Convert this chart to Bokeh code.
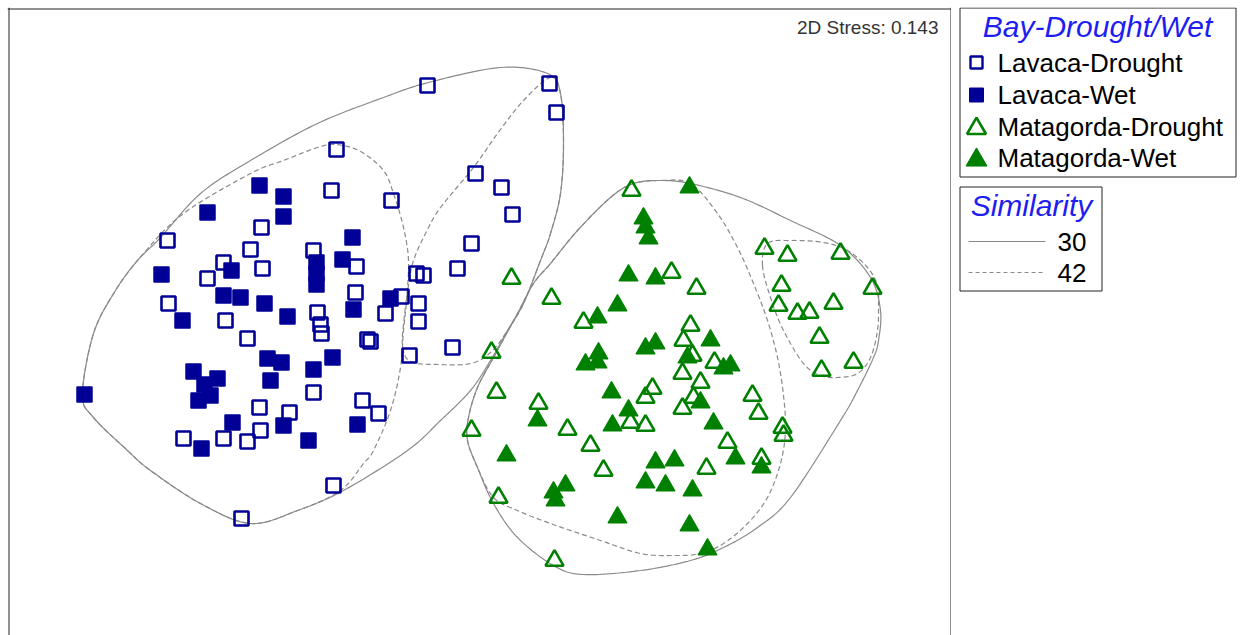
import numpy as np
from bokeh.plotting import figure
from bokeh.layouts import row
from bokeh.models import Range1d, Label, Span
from bokeh.embed import file_html
from bokeh.resources import INLINE

# ---- NMDS ordination scores (plot units; y grows downward) ----
lavaca_drought_x = [427, 549, 556, 336, 331, 391, 475, 501, 512, 471, 457, 167, 261, 250, 223, 262,
                    207, 313, 356, 168, 225, 247, 355, 317, 320, 321, 401, 385, 416, 423, 418, 418,
                    367, 370, 409, 452, 313, 362, 378, 259, 289, 260, 183, 223, 247, 333, 241]
lavaca_drought_y = [85, 83, 112, 149, 190, 200, 173, 187, 214, 243, 268, 240, 227, 249, 262, 268,
                    278, 250, 266, 303, 320, 338, 292, 312, 324, 333, 296, 313, 273, 275, 303, 321,
                    339, 341, 355, 347, 392, 400, 413, 407, 412, 430, 438, 438, 441, 485, 518]

lavaca_wet_x = [259, 283, 207, 283, 352, 342, 161, 231, 316, 316, 316, 223, 240, 182, 264, 287, 353,
                390, 84, 193, 217, 204, 210, 198, 267, 281, 270, 332, 313, 232, 201, 283, 308, 357]
lavaca_wet_y = [185, 196, 212, 216, 237, 259, 274, 270, 262, 273, 284, 295, 297, 320, 303, 316, 309,
                298, 394, 371, 378, 384, 395, 400, 358, 362, 380, 357, 369, 422, 448, 425, 440, 424]

matagorda_drought_x = [631, 511, 551, 583, 491, 671, 696, 764, 787, 840, 781, 872, 778, 797, 809, 833,
                       690, 683, 819, 853, 821, 692, 714, 682, 700, 496, 538, 645, 652, 630, 645, 471,
                       567, 590, 603, 498, 554, 693, 682, 752, 758, 782, 783, 727, 761, 706]
matagorda_drought_y = [190, 278, 298, 322, 352, 272, 288, 248, 255, 253, 285, 288, 305, 313, 312, 303,
                       325, 340, 337, 362, 370, 355, 362, 373, 382, 392, 403, 397, 388, 422, 425, 430,
                       429, 445, 470, 497, 560, 397, 408, 395, 413, 427, 435, 442, 458, 468]

matagorda_wet_x = [689, 643, 645, 648, 628, 655, 617, 597, 645, 655, 598, 585, 597, 710, 687, 723, 730,
                   611, 628, 612, 537, 506, 565, 553, 555, 617, 700, 713, 735, 761, 655, 674, 645, 665,
                   692, 689, 707]
matagorda_wet_y = [187, 218, 227, 238, 275, 278, 305, 317, 348, 343, 353, 364, 362, 340, 357, 368, 365,
                   392, 410, 425, 420, 455, 485, 492, 500, 517, 402, 423, 458, 467, 462, 460, 482, 485,
                   490, 525, 549]

group_names = ["Lavaca-Drought", "Lavaca-Wet", "Matagorda-Drought", "Matagorda-Wet"]
similarity_levels = ["30", "42"]
stress_text = "2D Stress: 0.143"

# ---- cluster envelopes (vertices; smoothed into closed curves when drawn) ----
# similarity 30
env30_lavaca_x = [82, 93, 115, 137, 160, 200, 250, 317, 383, 428, 500, 547, 560, 563, 560, 550, 540,
                  523, 507, 490, 470, 440, 407, 343, 297, 250, 200, 150, 127, 93]
env30_lavaca_y = [394, 333, 290, 260, 237, 193, 160, 123, 97, 82, 67, 73, 93, 143, 193, 233, 260,
                  303, 330, 360, 390, 420, 450, 490, 510, 523, 503, 470, 450, 417]
env30_matagorda_x = [493, 517, 533, 550, 577, 610, 633, 660, 690, 740, 790, 840, 870, 880, 878, 873,
                     857, 840, 790, 757, 723, 690, 640, 583, 553, 517, 493, 477, 467, 468, 477]
env30_matagorda_y = [357, 313, 283, 263, 230, 197, 183, 180, 183, 197, 220, 245, 277, 310, 340, 357,
                     390, 420, 497, 527, 547, 560, 570, 574, 565, 537, 503, 467, 440, 417, 387]
# similarity 42
env42_lavaca_a_x = [82, 93, 115, 143, 183, 250, 283, 317, 336, 360, 383, 393, 403, 408, 406, 403, 400,
                    390, 373, 363, 340, 297, 250, 200, 150, 127, 93]
env42_lavaca_a_y = [394, 333, 290, 253, 213, 173, 160, 147, 144, 151, 170, 193, 227, 260, 300, 330, 367,
                    410, 450, 463, 490, 510, 523, 503, 470, 450, 417]
env42_lavaca_b_x = [550, 560, 563, 560, 550, 540, 523, 507, 490, 470, 437, 410, 402, 404, 408, 413, 425,
                    440, 473, 497, 523]
env42_lavaca_b_y = [77, 93, 143, 193, 233, 260, 303, 330, 352, 363, 364, 361, 345, 315, 285, 260, 233,
                    207, 167, 133, 100]
env42_matagorda_a_x = [493, 517, 533, 550, 577, 610, 633, 660, 690, 717, 737, 753, 767, 777, 783, 785,
                       780, 767, 747, 723, 700, 673, 640, 600, 550, 517, 493, 477, 467, 468, 477]
env42_matagorda_a_y = [357, 313, 283, 263, 230, 197, 183, 180, 183, 213, 247, 283, 320, 357, 395, 430,
                       463, 497, 523, 543, 553, 555, 553, 540, 523, 510, 497, 467, 440, 417, 387]
env42_matagorda_b_x = [762, 767, 790, 823, 847, 867, 877, 878, 877, 870, 857, 837, 820, 803, 783, 770]
env42_matagorda_b_y = [265, 243, 240, 242, 250, 267, 285, 303, 330, 357, 373, 377, 375, 363, 330, 297]

NAVY = "#000096"
GREEN = "#008000"
GREY = "#8a8a8a"
FRAME = "#222222"
TITLE_BLUE = "#1e1ef0"
FONT = "Liberation Sans"
TOP = 7  # shared top border, keeps both panels on the same vertical scale


def closed_spline(xs, ys, steps=16):
    """Closed Catmull-Rom curve through the envelope vertices."""
    pts = np.column_stack([xs, ys]).astype(float)
    n = len(pts)
    t = np.linspace(0, 1, steps, endpoint=False)[:, None]
    segs = []
    for i in range(n):
        p0, p1, p2, p3 = (pts[(i + k) % n] for k in (-1, 0, 1, 2))
        segs.append(0.5 * (2 * p1 + (p2 - p0) * t
                           + (2 * p0 - 5 * p1 + 4 * p2 - p3) * t ** 2
                           + (3 * p1 - p0 - 3 * p2 + p3) * t ** 3))
    curve = np.vstack(segs + [pts[:1]])
    return curve[:, 0], curve[:, 1]


# ---- ordination panel (open at the bottom edge) ----
p = figure(width=951, height=635, x_range=Range1d(7, 951), y_range=Range1d(635, TOP),
           title=None, output_backend="svg", toolbar_location=None,
           x_axis_location=None, y_axis_location=None,
           min_border_left=7, min_border_top=TOP, min_border_right=0, min_border_bottom=0,
           outline_line_color=None,
           background_fill_color="white", border_fill_color="white")
p.grid.visible = False
p.add_layout(Span(location=8.5, dimension="height", line_color=FRAME, line_width=1))
p.add_layout(Span(location=950.5, dimension="height", line_color=FRAME, line_width=1))
p.add_layout(Span(location=8.5, dimension="width", line_color=FRAME, line_width=1))

for ex, ey in [(env30_lavaca_x, env30_lavaca_y), (env30_matagorda_x, env30_matagorda_y)]:
    cx, cy = closed_spline(ex, ey)
    p.line(cx, cy, line_color=GREY, line_width=1.2)
for ex, ey in [(env42_lavaca_a_x, env42_lavaca_a_y), (env42_lavaca_b_x, env42_lavaca_b_y),
               (env42_matagorda_a_x, env42_matagorda_a_y), (env42_matagorda_b_x, env42_matagorda_b_y)]:
    cx, cy = closed_spline(ex, ey)
    p.line(cx, cy, line_color=GREY, line_width=1.2, line_dash="5 3")

p.scatter(lavaca_drought_x, lavaca_drought_y, marker="square", size=14,
          fill_color=None, line_color=NAVY, line_width=2.6)
p.scatter(lavaca_wet_x, lavaca_wet_y, marker="square", size=15,
          fill_color=NAVY, line_color=NAVY, line_width=1.5)
p.scatter(matagorda_drought_x, matagorda_drought_y, marker="triangle", size=18,
          fill_color=None, line_color=GREEN, line_width=2.6)
p.scatter(matagorda_wet_x, matagorda_wet_y, marker="triangle", size=19,
          fill_color=GREEN, line_color=GREEN, line_width=1.2)

p.add_layout(Label(x=938, y=27, text=stress_text, text_align="right", text_baseline="middle",
                   text_font=FONT, text_font_size="19px", text_color="#333333"))

# ---- key panel ----
q = figure(width=290, height=635, x_range=Range1d(951, 1241), y_range=Range1d(635, TOP),
           title=None, output_backend="svg", toolbar_location=None,
           x_axis_location=None, y_axis_location=None,
           min_border_left=0, min_border_right=0, min_border_top=TOP, min_border_bottom=0,
           outline_line_color=None, background_fill_color="white", border_fill_color="white")
q.grid.visible = False

box_left = 959.5
# group key
q.quad(left=[box_left], right=[1235.5], top=[7.5], bottom=[176.5],
       fill_color=None, line_color=FRAME, line_width=1)
q.add_layout(Label(x=1097, y=26, text="Bay-Drought/Wet", text_align="center", text_baseline="middle",
                   text_font=FONT, text_font_style="italic", text_font_size="30px",
                   text_color=TITLE_BLUE))
row_y = [62, 94.5, 126, 157.5]
swatch_x = 976
swatch_styles = [
    dict(marker="square", size=12, fill_color=None, line_color=NAVY, line_width=2.4),
    dict(marker="square", size=14, fill_color=NAVY, line_color=NAVY, line_width=1),
    dict(marker="triangle", size=19, fill_color=None, line_color=GREEN, line_width=2.6),
    dict(marker="triangle", size=21, fill_color=GREEN, line_color=GREEN, line_width=1),
]
for name, yy, style in zip(group_names, row_y, swatch_styles):
    q.scatter([swatch_x], [yy + (2 if style["marker"] == "triangle" else 0)], **style)
    q.add_layout(Label(x=997, y=yy, text=name, text_align="left", text_baseline="middle",
                       text_font=FONT, text_font_size="26px", text_color="black"))

# similarity key
q.quad(left=[box_left], right=[1101.5], top=[186.5], bottom=[290.5],
       fill_color=None, line_color=FRAME, line_width=1)
q.add_layout(Label(x=1031, y=205, text="Similarity", text_align="center", text_baseline="middle",
                   text_font=FONT, text_font_style="italic", text_font_size="30px",
                   text_color=TITLE_BLUE))
for level, yy, dash in zip(similarity_levels, [241, 272], ["solid", "4 3"]):
    q.line([968, 1045], [yy, yy], line_color=GREY, line_width=1.2, line_dash=dash)
    q.add_layout(Label(x=1057, y=yy, text=level, text_align="left", text_baseline="middle",
                       text_font=FONT, text_font_size="26px", text_color="black"))

layout = row(p, q)
open("out.html", "w").write(file_html(layout, INLINE))
